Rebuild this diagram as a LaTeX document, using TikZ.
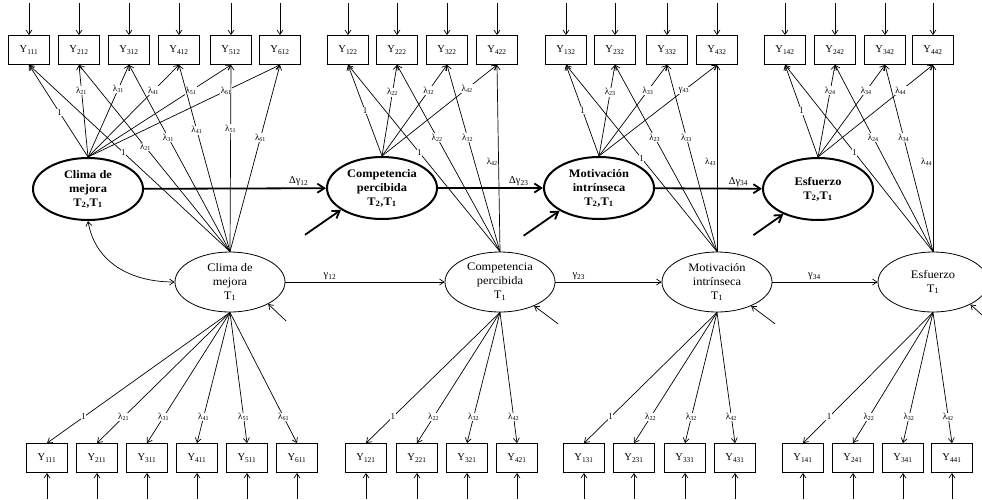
\documentclass[tikz,border=0pt]{standalone}
\usepackage{fontspec}
\setmainfont{Liberation Serif}
\newfontfamily\ellfont{Liberation Serif}[FakeStretch=1.08]
\usetikzlibrary{arrows.meta,shapes.geometric,calc}
\begin{document}
\begin{tikzpicture}[x=1pt,y=-1pt,
  obs/.style={draw, line width=0.8pt, minimum width=41pt, minimum height=29pt, inner sep=0pt, font=\fontsize{10.5}{12}\selectfont},
  lat/.style={draw, ellipse, line width=0.8pt, minimum width=110pt, minimum height=60pt, inner sep=0pt, align=center, font=\ellfont\fontsize{11.5}{14}\selectfont},
  chg/.style={draw, ellipse, line width=2pt, minimum width=110pt, minimum height=62pt, inner sep=0pt, align=center, font=\ellfont\bfseries\fontsize{11.5}{14}\selectfont},
  arr/.style={-{Straight Barb[length=4.5pt,width=6pt]}, line width=0.7pt},
  dbl/.style={{Straight Barb[length=4.5pt,width=6pt]}-{Straight Barb[length=4.5pt,width=6pt]}, line width=0.7pt},
  barr/.style={-{Straight Barb[length=7pt,width=9pt]}, line width=1.8pt},
  lab/.style={fill=white, inner sep=0.6pt, font=\fontsize{9}{10}\selectfont},
  glab/.style={inner sep=1.5pt, font=\fontsize{10.5}{11}\selectfont},
]
\useasboundingbox (0,0) rectangle (982,499);

% ---------- top observed boxes ----------
\foreach \i/\x/\s in {1/29/111,2/79/212,3/129/312,4/179/412,5/231/512,6/280/612}{
  \node[obs] (ta\i) at (\x,50) {Y\textsubscript{\s}};
  \coordinate (ia\i) at (\x,3);
  \draw[arr] (ia\i) -- (ta\i);
}
\foreach \i/\x/\s in {1/348/122,2/397/222,3/447/322,4/497/422}{
  \node[obs] (tb\i) at (\x,50) {Y\textsubscript{\s}};
  \coordinate (ib\i) at (\x,3);
  \draw[arr] (ib\i) -- (tb\i);
}
\foreach \i/\x/\s in {1/566/132,2/615/232,3/667/332,4/717/432}{
  \node[obs] (tc\i) at (\x,50) {Y\textsubscript{\s}};
  \coordinate (ic\i) at (\x,3);
  \draw[arr] (ic\i) -- (tc\i);
}
\foreach \i/\x/\s in {1/785/142,2/835/242,3/885/342,4/933/442}{
  \node[obs] (td\i) at (\x,50) {Y\textsubscript{\s}};
  \coordinate (id\i) at (\x,3);
  \draw[arr] (id\i) -- (td\i);
}

% ---------- bottom observed boxes ----------
\foreach \i/\x/\s in {1/47/111,2/97/211,3/147/311,4/197/411,5/247/511,6/297/611}{
  \node[obs] (ba\i) at (\x,458) {Y\textsubscript{\s}};
  \coordinate (ja\i) at (\x,499);
  \draw[arr] (ja\i) -- (ba\i);
}
\foreach \i/\x/\s in {1/366/121,2/417/221,3/467/321,4/517/421}{
  \node[obs] (bb\i) at (\x,458) {Y\textsubscript{\s}};
  \coordinate (jb\i) at (\x,499);
  \draw[arr] (jb\i) -- (bb\i);
}
\foreach \i/\x/\s in {1/584/131,2/634/231,3/685/331,4/735/431}{
  \node[obs] (bc\i) at (\x,458) {Y\textsubscript{\s}};
  \coordinate (jc\i) at (\x,499);
  \draw[arr] (jc\i) -- (bc\i);
}
\foreach \i/\x/\s in {1/803/141,2/853/241,3/903/341,4/952/441}{
  \node[obs] (bd\i) at (\x,458) {Y\textsubscript{\s}};
  \coordinate (jd\i) at (\x,499);
  \draw[arr] (jd\i) -- (bd\i);
}

% ---------- latent variables ----------
\node[chg] (E1) at (88,189) {Clima de\\mejora\\T\textsubscript{2},T\textsubscript{1}};
\node[chg] (E2) at (382,188) {Competencia\\percibida\\T\textsubscript{2},T\textsubscript{1}};
\node[chg] (E3) at (599,188) {Motivación\\intrínseca\\T\textsubscript{2},T\textsubscript{1}};
\node[chg] (E4) at (818,189) {Esfuerzo\\T\textsubscript{2},T\textsubscript{1}};

\node[lat] (L1) at (230,282) {Clima de\\mejora\\T\textsubscript{1}};
\node[lat] (L2) at (500,282) {Competencia\\percibida\\T\textsubscript{1}};
\node[lat] (L3) at (717,282) {Motivación\\intrínseca\\T\textsubscript{1}};
\node[lat] (L4) at (933,282) {Esfuerzo\\T\textsubscript{1}};

% ---------- structural paths ----------
\draw[barr] (E1) -- (E2) node[glab, pos=0.85, above] {Δγ\textsubscript{12}};
\draw[barr] (E2) -- (E3) node[glab, pos=0.77, above] {Δγ\textsubscript{23}};
\draw[barr] (E3) -- (E4) node[glab, pos=0.78, above] {Δγ\textsubscript{34}};

\draw[arr] (L1) -- (L2) node[glab, pos=0.28, above] {γ\textsubscript{12}};
\draw[arr] (L2) -- (L3) node[glab, pos=0.22, above] {γ\textsubscript{23}};
\draw[arr] (L3) -- (L4) node[glab, pos=0.40, above] {γ\textsubscript{34}};

\draw[dbl] (E1.south) .. controls (95,262) and (130,282) .. (L1.west);

% disturbances
\coordinate (dE2) at ($(E2.208)+(-36,25)$);
\coordinate (dE3) at ($(E3.210)+(-36,25)$);
\coordinate (dE4) at ($(E4.216)+(-30,21)$);
\draw[barr] (dE2) -- (E2.208);
\draw[barr] (dE3) -- (E3.210);
\draw[barr] (dE4) -- (E4.216);

\coordinate (dL1) at ($(L1.-30)+(18,17)$);
\coordinate (dL2) at ($(L2.-35)+(24,18)$);
\coordinate (dL3) at ($(L3.-35)+(24,18)$);
\coordinate (dL4) at ($(L4.-31)+(20,18)$);
\draw[arr] (dL1) -- (L1.-30);
\draw[arr] (dL2) -- (L2.-35);
\draw[arr] (dL3) -- (L3.-35);
\draw[arr] (dL4) -- (L4.-31);

% ---------- loadings to top boxes ----------
\foreach \i/\p/\l in {1/0.48/1,2/0.72/λ\textsubscript{21},3/0.74/λ\textsubscript{31},4/0.72/λ\textsubscript{41},5/0.72/λ\textsubscript{51},6/0.72/λ\textsubscript{61}}{
  \draw[arr] (E1.north) -- (ta\i.south) node[lab,pos=\p] {\l};
}
\foreach \i/\p/\l in {1/0.53/1,2/0.56/λ\textsubscript{21},3/0.61/λ\textsubscript{31},4/0.65/λ\textsubscript{41},5/0.66/λ\textsubscript{51},6/0.61/λ\textsubscript{61}}{
  \draw[arr] (L1.north) -- (ta\i.south) node[lab,pos=\p] {\l};
}
\foreach \i/\p/\l in {1/0.5/1,2/0.7/λ\textsubscript{22},3/0.72/λ\textsubscript{32},4/0.74/λ\textsubscript{42}}{
  \draw[arr] (E2.north) -- (tb\i.south) node[lab,pos=\p] {\l};
}
\foreach \i/\p/\l in {1/0.53/1,2/0.61/λ\textsubscript{22},3/0.61/λ\textsubscript{32}}{
  \draw[arr] (L2.north) -- (tb\i.south) node[lab,pos=\p] {\l};
}
\draw[arr] (L2.north) -- (tb4.south) node[lab,pos=0.48,anchor=east,fill=none] {λ\textsubscript{42}};

\foreach \i/\p/\l in {1/0.5/1,2/0.7/λ\textsubscript{23},3/0.72/λ\textsubscript{33},4/0.72/γ\textsubscript{43}}{
  \draw[arr] (E3.north) -- (tc\i.south) node[lab,pos=\p] {\l};
}
\foreach \i/\p/\l in {1/0.5/1,2/0.61/λ\textsubscript{23},3/0.61/λ\textsubscript{33}}{
  \draw[arr] (L3.north) -- (tc\i.south) node[lab,pos=\p] {\l};
}
\draw[arr] (L3.north) -- (tc4.south) node[lab,pos=0.48,anchor=east,fill=none] {λ\textsubscript{43}};

\foreach \i/\p/\l in {1/0.5/1,2/0.72/λ\textsubscript{24},3/0.72/λ\textsubscript{34},4/0.72/λ\textsubscript{44}}{
  \draw[arr] (E4.north) -- (td\i.south) node[lab,pos=\p] {\l};
}
\foreach \i/\p/\l in {1/0.53/1,2/0.61/λ\textsubscript{24},3/0.61/λ\textsubscript{34}}{
  \draw[arr] (L4.north) -- (td\i.south) node[lab,pos=\p] {\l};
}
\draw[arr] (L4.north) -- (td4.south) node[lab,pos=0.48,anchor=east,fill=none] {λ\textsubscript{44}};

% ---------- loadings to bottom boxes ----------
\foreach \i/\l in {1/1,2/λ\textsubscript{21},3/λ\textsubscript{31},4/λ\textsubscript{41},5/λ\textsubscript{51},6/λ\textsubscript{61}}{
  \draw[arr] (L1.south) -- (ba\i.north) node[lab,pos=0.8] {\l};
}
\foreach \i/\l in {1/1,2/λ\textsubscript{22},3/λ\textsubscript{32},4/λ\textsubscript{42}}{
  \draw[arr] (L2.south) -- (bb\i.north) node[lab,pos=0.8] {\l};
  \draw[arr] (L3.south) -- (bc\i.north) node[lab,pos=0.8] {\l};
  \draw[arr] (L4.south) -- (bd\i.north) node[lab,pos=0.8] {\l};
}
\end{tikzpicture}
\end{document}
